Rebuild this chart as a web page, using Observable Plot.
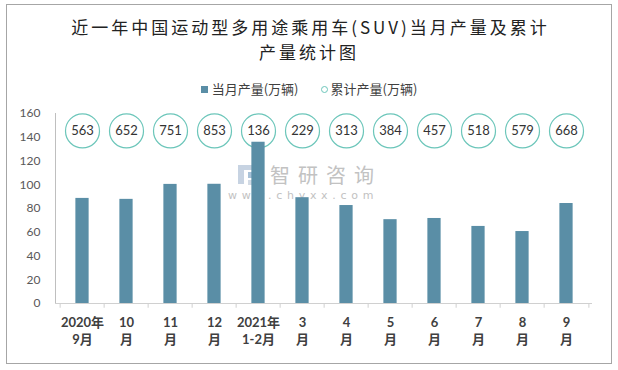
<!DOCTYPE html>
<html><head><meta charset="utf-8">
<script src="https://cdn.jsdelivr.net/npm/d3@7"></script>
<script src="https://cdn.jsdelivr.net/npm/@observablehq/plot@0.6"></script>
<style>
html,body{margin:0;padding:0;background:#fff;}
#wrap{position:relative;width:618px;height:370px;overflow:hidden;font-family:Lato,"Noto Sans CJK SC",sans-serif;}
#border{position:absolute;left:6px;top:4px;width:606px;height:360px;border:1px solid #a6a6a6;box-sizing:border-box;}
#title{position:absolute;left:0;top:14px;width:618px;text-align:center;font-family:"Noto Sans CJK SC",sans-serif;font-size:17px;line-height:25px;letter-spacing:3px;color:#222;text-indent:3px;}
#legend{position:absolute;left:0;top:80px;width:618px;text-align:center;font-family:"Noto Sans CJK SC",sans-serif;font-size:13px;line-height:16px;color:#404040;}
#legend span{display:inline-block;vertical-align:middle;}
#wm{position:absolute;left:0;top:0;width:618px;height:370px;color:#c2c2c2;}
#chart{position:absolute;left:0;top:0;}
</style></head>
<body>
<div id="wrap">
  <div id="border"></div>
  <div id="title">近一年中国运动型多用途乘用车(SUV)当月产量及累计<br>产量统计图</div>
  <div id="legend"></div>
  <div id="wm">
    <svg width="26" height="24" style="position:absolute;left:236px;top:163px">
      <rect x="2" y="2" width="20" height="5" fill="#c7d3e2"/>
      <rect x="2" y="7" width="6" height="14" fill="#c7d3e2"/>
      <rect x="12" y="9" width="10" height="6" fill="#aac2d8"/>
      <rect x="12" y="17" width="10" height="5" fill="#d3dbe5"/>
    </svg>
    <div style="position:absolute;left:270px;top:160px;font-family:'Noto Sans CJK SC',sans-serif;font-size:20px;line-height:29px;height:29px;letter-spacing:8px;">智研咨询</div>
    <div style="position:absolute;left:228px;top:189px;font-family:'DejaVu Sans',sans-serif;font-size:11px;line-height:13px;height:13px;letter-spacing:4.7px;">www.chyxx.com</div>
  </div>
  <div id="chart"></div>
</div>
<script>
const categories = ["2020年\n9月","10\n月","11\n月","12\n月","2021年\n1-2月","3\n月","4\n月","5\n月","6\n月","7\n月","8\n月","9\n月"];
const monthly = [88.5, 87.7, 100.3, 100.4, 135.8, 89.1, 82.5, 70.6, 71.6, 64.9, 60.6, 84.2];
const cumulative = [563, 652, 751, 853, 136, 229, 313, 384, 457, 518, 579, 668];
const yTicks = [0, 20, 40, 60, 80, 100, 120, 140, 160];
const seriesNames = ["当月产量(万辆)", "累计产量(万辆)"];
const circleLevel = 145.3;

const barColor = "#5a8ea6";
const ringColor = "#6cc6ba";

const data = categories.map((c, i) => ({cat: c, v: monthly[i], cum: cumulative[i]}));

const W = 618, H = 370;
const mL = 55, mR = 26, mT = 113, mB = 67;
const bw = (W - mL - mR) / categories.length;
const barW = 14;

document.getElementById("legend").innerHTML =
  `<span style="width:7px;height:7px;background:${barColor};margin-right:4px;"></span><span>${seriesNames[0]}</span>` +
  `<span style="width:7px;height:7px;border:1px solid ${ringColor};border-radius:50%;margin-left:22px;margin-right:3px;box-sizing:border-box;"></span><span>${seriesNames[1]}</span>`;

const chart = Plot.plot({
  width: W, height: H,
  marginLeft: mL, marginRight: mR, marginTop: mT, marginBottom: mB,
  style: {background: "transparent", fontFamily: 'Lato,"Noto Sans CJK SC",sans-serif'},
  x: {type: "band", domain: categories, padding: 0, label: null},
  y: {domain: [0, 160], label: null},
  marks: [
    Plot.frame({anchor: "left", stroke: "#bfbfbf"}),
    Plot.axisY({ticks: yTicks, tickSize: 0, tickPadding: 15, fontSize: 12, color: "#595959", tickFormat: d => d, label: null}),
    Plot.axisX({tickSize: 0, tickPadding: 12, fontSize: 13, fontWeight: "bold", lineHeight: 1.27, fill: "#404040", tickFormat: d => d, label: null}),
    Plot.dot(data, {x: "cat", y: () => circleLevel, r: 17, fill: "white", stroke: ringColor, strokeWidth: 1.2}),
    Plot.barY(data, {x: "cat", y: "v", fill: barColor, insetLeft: (bw - barW) / 2, insetRight: (bw - barW) / 2}),
    Plot.ruleY([0], {stroke: "#d0d0d0"}),
    Plot.ruleX(data, {x: "cat", y1: 0, y2: -4, dx: -bw / 2, stroke: "#d0d0d0"}),
    Plot.ruleX(data.slice(-1), {x: "cat", y1: 0, y2: -4, dx: bw / 2, stroke: "#d0d0d0"}),
    Plot.text(data, {x: "cat", y: () => circleLevel, text: d => String(d.cum), fontSize: 13, fill: "#333"})
  ]
});
document.getElementById("chart").appendChild(chart);
</script>
</body></html>
